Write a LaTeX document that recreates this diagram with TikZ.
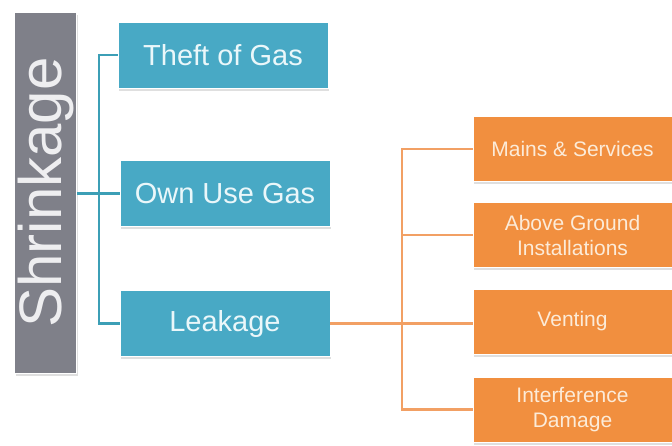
\documentclass[tikz,border=0pt]{standalone}
\usepackage{fontspec}
\setmainfont{Liberation Sans}
\usetikzlibrary{shadows}
\definecolor{shrinkgray}{HTML}{7F8089}
\definecolor{gasblue}{HTML}{48A9C5}
\definecolor{leakorange}{HTML}{F18F3F}
\definecolor{shrinktext}{HTML}{EEEEF0}
\definecolor{bluetext}{HTML}{EAF7FA}
\definecolor{orangetext}{HTML}{FCEBD8}
\definecolor{blueline}{HTML}{3C9FB6}
\definecolor{orangeline}{HTML}{F2A064}

\begin{document}
\begin{tikzpicture}[%
      x=1pt, y=-1pt,
      box/.style={draw=white, line width=0.8pt, inner sep=0pt,
        drop shadow={opacity=0.25, shadow xshift=1pt, shadow yshift=-2.5pt}},
      rootbox/.style={box, fill=shrinkgray, text=shrinktext, rotate=90,
        minimum width=361pt, minimum height=62pt,
        font=\fontsize{60}{60}\selectfont},
      bluebox/.style={box, fill=gasblue, text=bluetext,
        minimum width=210pt, minimum height=66pt,
        font=\fontsize{29}{34}\selectfont},
      orangebox/.style={box, fill=leakorange, text=orangetext,
        minimum width=199pt, minimum height=65pt, align=center,
        font=\fontsize{21}{25}\selectfont},
      bluelink/.style={color=blueline, line width=2.2pt},
      orangelink/.style={color=orangeline, line width=2.2pt},
      ]
      \useasboundingbox (0,0) rectangle (672,445);

      \node [rootbox] (shrink) at (45.5,192.5) {Shrinkage};

      \node [bluebox] (theft) at (223,55) {Theft of Gas};
      \node [bluebox] (own) at (225,193.5) {Own Use Gas};
      \node [bluebox] (leak) at (225,323.5) {Leakage};

      \node [orangebox] (mains) at (572.5,149) {Mains \& Services};
      \node [orangebox] (above) at (572.5,235) {Above Ground\\Installations};
      \node [orangebox] (vent) at (572.5,321.5) {Venting};
      \node [orangebox] (damage) at (572.5,409.5) {Interference\\Damage};

      \coordinate (bbus) at (99,0);
      \coordinate (obus) at (402,0);

      \draw [bluelink] (theft.west) -| (bbus |- leak.west) -- (leak.west);
      \draw [bluelink] (shrink.south |- own.west) -- (own.west);

      \draw [orangelink] (mains.west) -| (obus |- damage.west) -- (damage.west);
      \draw [orangelink] (obus |- above.west) -- (above.west);
      \draw [orangelink] (leak.east) -- (leak.east -| vent.west);
      \end{tikzpicture}
\end{document}
